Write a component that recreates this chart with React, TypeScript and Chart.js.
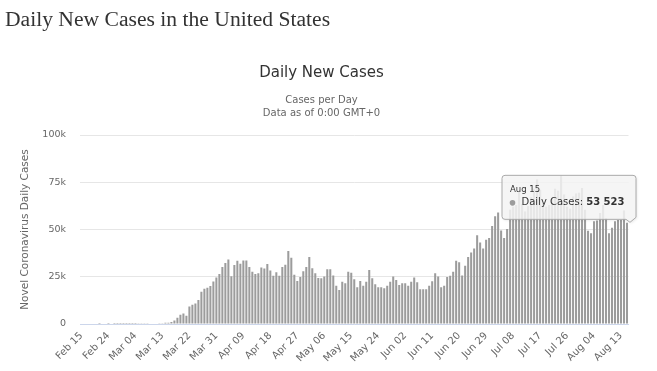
import React, { useEffect, useRef } from 'react';
import { Chart, registerables } from 'chart.js';

Chart.register(...registerables);

// ---- Data ----
const START_YEAR = 2020;
const START_MONTH = 1; // February (0-based)
const START_DAY = 15;
const MONTH_NAMES = ['Jan', 'Feb', 'Mar', 'Apr', 'May', 'Jun', 'Jul', 'Aug', 'Sep', 'Oct', 'Nov', 'Dec'];

const FEB_CASES = [0, 0, 0, 0, 0, 0, 1, 0, 0, 18, 0, 6, 1, 1, 4];
const MAR_CASES = [3, 20, 25, 35, 75, 100, 110, 120, 200, 270, 290, 350, 450, 600, 700, 1100, 1900, 3300, 4900, 5500, 4400, 9300, 10200, 10900, 12700, 17000, 18600, 19200, 20100, 22500, 24600];
const APR_CASES = [26500, 30100, 32300, 34100, 25300, 31200, 33500, 31900, 33600, 33600, 30100, 27600, 26500, 26900, 29900, 29300, 31800, 28300, 25500, 27400, 25500, 30100, 31300, 38600, 35000, 26000, 22800, 24900, 27900, 30200];
const MAY_CASES = [35400, 29500, 26900, 24400, 24200, 25100, 29000, 29000, 25600, 20300, 18000, 22300, 21600, 27600, 27100, 23700, 19500, 22800, 20200, 22300, 28600, 24200, 21000, 19500, 19500, 18900, 20200, 22300, 25100, 23300, 20700];
const JUN_CASES = [21600, 21600, 20200, 22300, 24600, 22100, 18400, 18400, 18400, 20300, 22600, 26900, 25100, 19500, 20300, 24900, 25500, 27600, 33400, 32700, 25600, 30800, 35500, 37800, 40000, 47000, 43100, 40000, 44600, 45500];
const JUL_CASES = [51800, 57000, 59000, 49500, 45500, 50200, 60500, 62000, 63000, 70000, 63500, 59500, 62500, 67000, 71500, 76500, 71000, 64000, 62000, 63000, 66000, 71500, 70500, 78500, 68500, 62000, 61000, 67500, 69000, 69500, 72000];
const AUG_CASES = [60500, 49300, 48000, 54300, 54800, 58700, 63000, 56000, 48000, 50900, 54400, 55000, 55200, 60000, 53523];

const DAILY_CASES = [
  ...FEB_CASES, ...MAR_CASES, ...APR_CASES, ...MAY_CASES, ...JUN_CASES, ...JUL_CASES, ...AUG_CASES,
];

function buildCategories(count: number): string[] {
  const out: string[] = [];
  for (let i = 0; i < count; i++) {
    const d = new Date(Date.UTC(START_YEAR, START_MONTH, START_DAY + i));
    out.push(MONTH_NAMES[d.getUTCMonth()] + ' ' + String(d.getUTCDate()).padStart(2, '0'));
  }
  return out;
}
const CATEGORIES = buildCategories(DAILY_CASES.length);

const X_TICK_LABELS = ['Feb 15', 'Feb 24', 'Mar 04', 'Mar 13', 'Mar 22', 'Mar 31', 'Apr 09', 'Apr 18', 'Apr 27', 'May 06', 'May 15', 'May 24', 'Jun 02', 'Jun 11', 'Jun 20', 'Jun 29', 'Jul 08', 'Jul 17', 'Jul 26', 'Aug 04', 'Aug 13'];
const Y_TICK_LABELS = ['0', '25k', '50k', '75k', '100k'];
const Y_STEP = 25000;
const Y_MAX = 100000;

const TOOLTIP_INDEX = DAILY_CASES.length - 1;
const TOOLTIP_TITLE = 'Aug 15';
const TOOLTIP_SERIES = 'Daily Cases: ';
const TOOLTIP_VALUE = '53 523';

const FONT = '"DejaVu Sans", Verdana, sans-serif';
const BAR_COLOR = '#9c9c9c';

const fixedTooltip = {
  id: 'fixedTooltip',
  afterDraw(chart: any) {
    const meta = chart.getDatasetMeta(0);
    const el = meta.data[TOOLTIP_INDEX];
    if (!el) return;
    const ctx = chart.ctx as CanvasRenderingContext2D;
    const tipX = el.x + 3;
    const tipY = el.y - 0.5;
    const right = tipX + 6;
    const bottom = tipY - 3;
    const w = 134;
    const h = 44;
    const left = right - w;
    const top = bottom - h;
    const r = 3;

    ctx.save();
    ctx.beginPath();
    ctx.moveTo(left + r, top);
    ctx.lineTo(right - r, top);
    ctx.arcTo(right, top, right, top + r, r);
    ctx.lineTo(right, bottom - 2);
    ctx.lineTo(tipX, tipY);
    ctx.lineTo(tipX - 4, bottom);
    ctx.lineTo(left + r, bottom);
    ctx.arcTo(left, bottom, left, bottom - r, r);
    ctx.lineTo(left, top + r);
    ctx.arcTo(left, top, left + r, top, r);
    ctx.closePath();
    ctx.shadowColor = 'rgba(0,0,0,0.12)';
    ctx.shadowOffsetX = 1;
    ctx.shadowOffsetY = 1;
    ctx.shadowBlur = 3;
    ctx.fillStyle = 'rgba(247,247,247,0.85)';
    ctx.fill();
    ctx.shadowColor = 'transparent';
    ctx.lineWidth = 1;
    ctx.strokeStyle = '#aaaaaa';
    ctx.stroke();

    ctx.fillStyle = '#333333';
    ctx.textBaseline = 'middle';
    ctx.textAlign = 'left';
    ctx.font = `8.5px ${FONT}`;
    ctx.fillText(TOOLTIP_TITLE, left + 8, top + 14);

    ctx.beginPath();
    ctx.arc(left + 10.5, top + 27.5, 2.8, 0, Math.PI * 2);
    ctx.fillStyle = BAR_COLOR;
    ctx.fill();

    ctx.fillStyle = '#333333';
    ctx.font = `10px ${FONT}`;
    const sx = left + 19.5;
    ctx.fillText(TOOLTIP_SERIES, sx, top + 27.5);
    const sw = ctx.measureText(TOOLTIP_SERIES).width;
    ctx.font = `bold 10px ${FONT}`;
    ctx.fillText(TOOLTIP_VALUE, sx + sw, top + 27.5);
    ctx.restore();
  },
};

export default function App() {
  const canvasRef = useRef<HTMLCanvasElement | null>(null);

  useEffect(() => {
    if (!canvasRef.current) return;
    const chart = new Chart(canvasRef.current, {
      type: 'bar',
      data: {
        labels: CATEGORIES,
        datasets: [
          {
            label: 'Daily Cases',
            data: DAILY_CASES,
            backgroundColor: BAR_COLOR,
            borderWidth: 0,
            barPercentage: 0.68,
            categoryPercentage: 1,
          },
        ],
      },
      options: {
        responsive: false,
        animation: false,
        devicePixelRatio: 1,
        layout: { padding: { left: 14.5, right: 28.5, top: 60, bottom: 0 } },
        plugins: {
          legend: { display: false },
          tooltip: { enabled: false },
          title: {
            display: true,
            text: 'Daily New Cases',
            color: '#333333',
            font: { family: FONT, size: 15, weight: 'normal', lineHeight: 1.2 },
            padding: { top: 4, bottom: 8 },
          },
          subtitle: {
            display: true,
            text: ['Cases per Day', 'Data as of 0:00 GMT+0'],
            color: '#666666',
            font: { family: FONT, size: 10, lineHeight: 1.3 },
            padding: { top: 3.5, bottom: 15.5 },
          },
        },
        scales: {
          x: {
            grid: { display: false, drawTicks: false },
            border: { display: true, color: '#ccd6eb', width: 1 },
            afterFit: (scale: any) => {
              scale.height = 47;
            },
            ticks: {
              autoSkip: false,
              minRotation: 45,
              maxRotation: 45,
              padding: 6,
              color: '#666666',
              font: { family: FONT, size: 10 },
              callback: (_v: any, index: number) => {
                const lbl = CATEGORIES[index];
                return X_TICK_LABELS.includes(lbl) ? lbl : null;
              },
            },
          },
          y: {
            min: 0,
            max: Y_MAX,
            grid: { color: '#e6e6e6', drawTicks: false, lineWidth: 1 },
            border: { display: false },
            afterFit: (scale: any) => {
              scale.width = 65.5;
            },
            ticks: {
              stepSize: Y_STEP,
              padding: 14,
              color: '#666666',
              font: { family: FONT, size: 9.5 },
              callback: (v: any) => Y_TICK_LABELS[Math.round(Number(v) / Y_STEP)],
            },
            title: {
              display: true,
              text: 'Novel Coronavirus Daily Cases',
              color: '#666666',
              font: { family: FONT, size: 10.5 },
              padding: { top: 4, bottom: 4 },
            },
          },
        },
      },
      plugins: [fixedTooltip],
    });
    return () => chart.destroy();
  }, []);

  return (
    <div style={{ position: 'fixed', left: 0, top: 0, width: 657, height: 371, background: '#ffffff', overflow: 'hidden' }}>
      <div
        style={{
          position: 'absolute',
          left: 5,
          top: 5,
          fontFamily: '"Liberation Serif", "Times New Roman", serif',
          fontSize: 21.6,
          lineHeight: '28px',
          color: '#333333',
          whiteSpace: 'nowrap',
          zIndex: 1,
        }}
      >
        Daily New Cases in the United States
      </div>
      <canvas ref={canvasRef} width={657} height={371} style={{ position: 'absolute', left: 0, top: 0, width: 657, height: 371 }} />
    </div>
  );
}
